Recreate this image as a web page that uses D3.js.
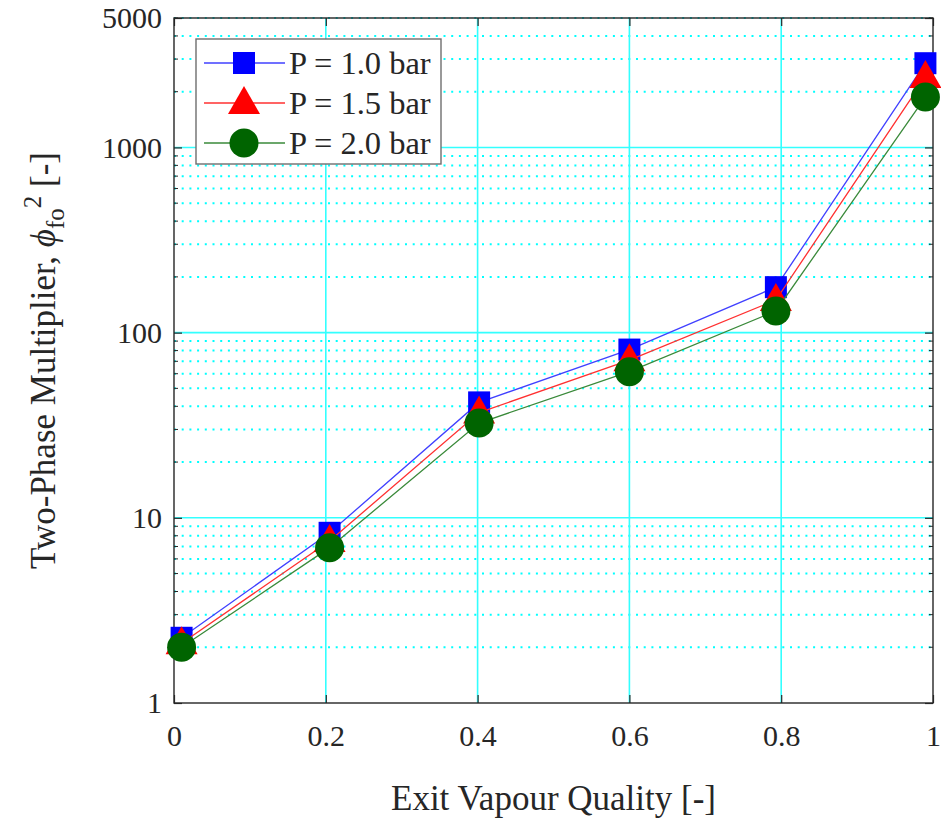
<!doctype html>
<html>
<head>
  <style>
    body { margin:0; background:#fff; }
    text { font-family:"Liberation Serif", "Times New Roman", serif; fill:#262626; }
  </style>
  <script src="https://d3js.org/d3.v7.min.js"></script>
</head>
<body>
  <script type="text/javascript">
    // exit vapour quality
    var quality = [0.01, 0.205, 0.402, 0.6, 0.793, 0.99];
    // two-phase multiplier, one array per pressure
    var p10 = [2.25, 8.3, 42, 81, 176, 2850];
    var p15 = [2.1, 7.5, 37, 71, 150, 2400];
    var p20 = [2.0, 6.9, 32.5, 61.5, 131, 1870];
    var seriesNames = ["P = 1.0 bar", "P = 1.5 bar", "P = 2.0 bar"];
    var xTicks = [0, 0.2, 0.4, 0.6, 0.8, 1];
    var yTicks = [1, 10, 100, 1000, 5000];

    var W = 941, H = 821;
    var mLeft = 174, mRight = 933, mTop = 18, mBottom = 703;

    var svg = d3.select("body").append("svg")
      .attr("width", W).attr("height", H);

    var x = d3.scaleLinear().domain([0, 1]).range([mLeft, mRight]);
    var y = d3.scaleLog().domain([1, 5000]).range([mBottom, mTop]);

    // minor grid (dotted)
    var minors = [];
    [1, 10, 100, 1000].forEach(function(d) {
      for (var k = 2; k <= 9; k++) if (d * k <= 5000) minors.push(d * k);
    });
    svg.append("g").selectAll("line").data(minors).enter().append("line")
      .attr("x1", mLeft).attr("x2", mRight)
      .attr("y1", function(d) { return y(d); })
      .attr("y2", function(d) { return y(d); })
      .attr("stroke", "#00ffff").attr("stroke-width", 2)
      .attr("stroke-dasharray", "2,5.7");

    // major grid
    svg.append("g").selectAll("line").data([10, 100, 1000]).enter().append("line")
      .attr("x1", mLeft).attr("x2", mRight)
      .attr("y1", function(d) { return y(d); })
      .attr("y2", function(d) { return y(d); })
      .attr("stroke", "#33ffff").attr("stroke-width", 1.6);
    svg.append("g").selectAll("line").data([0.2, 0.4, 0.6, 0.8]).enter().append("line")
      .attr("x1", function(d) { return x(d); })
      .attr("x2", function(d) { return x(d); })
      .attr("y1", mTop).attr("y2", mBottom)
      .attr("stroke", "#33ffff").attr("stroke-width", 1.6);

    // axes (ticks inward, box all round)
    var axisColor = "#262626";
    function styleAxis(g) {
      g.select(".domain").remove();
      g.selectAll("line").attr("stroke", axisColor).attr("stroke-width", 1.2);
      g.selectAll("text")
        .style("font-family", "'Liberation Serif', serif")
        .style("font-size", "30px").attr("fill", axisColor);
    }
    svg.append("g").attr("transform", "translate(0," + mBottom + ")")
      .call(d3.axisBottom(x).tickValues(xTicks).tickFormat(d3.format("~g"))
        .tickSizeInner(-8).tickSizeOuter(0).tickPadding(22))
      .call(styleAxis);
    svg.append("g").attr("transform", "translate(0," + mTop + ")")
      .call(d3.axisTop(x).tickValues(xTicks).tickFormat("")
        .tickSizeInner(-8).tickSizeOuter(0))
      .call(styleAxis);
    svg.append("g").attr("transform", "translate(" + mLeft + ",0)")
      .call(d3.axisLeft(y).tickValues(yTicks).tickFormat(d3.format("d"))
        .tickSizeInner(-8).tickSizeOuter(0).tickPadding(12))
      .call(styleAxis);
    svg.append("g").attr("transform", "translate(" + mRight + ",0)")
      .call(d3.axisRight(y).tickValues(yTicks).tickFormat("")
        .tickSizeInner(-8).tickSizeOuter(0))
      .call(styleAxis);
    // minor tick marks
    [mLeft, mRight].forEach(function(px) {
      var dir = px === mLeft ? 1 : -1;
      svg.append("g").selectAll("line").data(minors).enter().append("line")
        .attr("x1", px).attr("x2", px + dir * 4)
        .attr("y1", function(d) { return y(d); })
        .attr("y2", function(d) { return y(d); })
        .attr("stroke", axisColor).attr("stroke-width", 1);
    });
    svg.append("rect")
      .attr("x", mLeft).attr("y", mTop)
      .attr("width", mRight - mLeft).attr("height", mBottom - mTop)
      .attr("fill", "none").attr("stroke", axisColor).attr("stroke-width", 1.4);

    // series
    var series = [
      { name: seriesNames[0], values: p10, line: "#4040ff", fill: "#0000ff", shape: "square" },
      { name: seriesNames[1], values: p15, line: "#ff3030", fill: "#ff0000", shape: "triangle" },
      { name: seriesNames[2], values: p20, line: "#3a8a3a", fill: "#006400", shape: "circle" }
    ];

    function drawMarker(g, shape, color) {
      if (shape === "square") {
        g.append("rect").attr("x", -11).attr("y", -11)
          .attr("width", 22).attr("height", 22).attr("fill", color);
      } else if (shape === "triangle") {
        g.append("path").attr("d", "M0,-17L16,11L-16,11Z").attr("fill", color);
      } else {
        g.append("circle").attr("r", 14.5).attr("fill", color);
      }
    }

    var line = d3.line()
      .x(function(d, i) { return x(quality[i]); })
      .y(function(d) { return y(d); });

    series.forEach(function(s) {
      svg.append("path").datum(s.values)
        .attr("d", line)
        .attr("fill", "none").attr("stroke", s.line).attr("stroke-width", 1.3);
      s.values.forEach(function(v, i) {
        var g = svg.append("g")
          .attr("transform", "translate(" + x(quality[i]) + "," + y(v) + ")");
        drawMarker(g, s.shape, s.fill);
      });
    });

    // legend
    var legend = svg.append("g");
    legend.append("rect")
      .attr("x", 196).attr("y", 39).attr("width", 245).attr("height", 125)
      .attr("fill", "#fff").attr("stroke", "#6e6e6e").attr("stroke-width", 1.4);
    series.forEach(function(s, i) {
      var ly = 63 + i * 40;
      legend.append("line")
        .attr("x1", 204).attr("x2", 285).attr("y1", ly).attr("y2", ly)
        .attr("stroke", s.line).attr("stroke-width", 1.3);
      var g = legend.append("g").attr("transform", "translate(244," + ly + ")");
      drawMarker(g, s.shape, s.fill);
      legend.append("text")
        .attr("x", 289).attr("y", ly + 11)
        .style("font-size", "32.5px").attr("fill", "#000")
        .text(s.name);
    });

    // axis titles
    svg.append("text")
      .attr("x", (mLeft + mRight) / 2).attr("y", 810)
      .attr("text-anchor", "middle")
      .style("font-size", "35px")
      .text("Exit Vapour Quality [-]");

    var yl = svg.append("text")
      .attr("transform", "translate(55," + ((mTop + mBottom) / 2) + ") rotate(-90)")
      .attr("text-anchor", "middle")
      .style("font-size", "35px");
    yl.append("tspan").text("Two-Phase Multiplier, ");
    yl.append("tspan").style("font-style", "italic").text("\u03d5");
    yl.append("tspan").attr("dy", 9).style("font-size", "25px").text("fo");
    yl.append("tspan").attr("dy", -23).style("font-size", "25px").text("2");
    yl.append("tspan").attr("dy", 14).text(" [-]");
  </script>
</body>
</html>
